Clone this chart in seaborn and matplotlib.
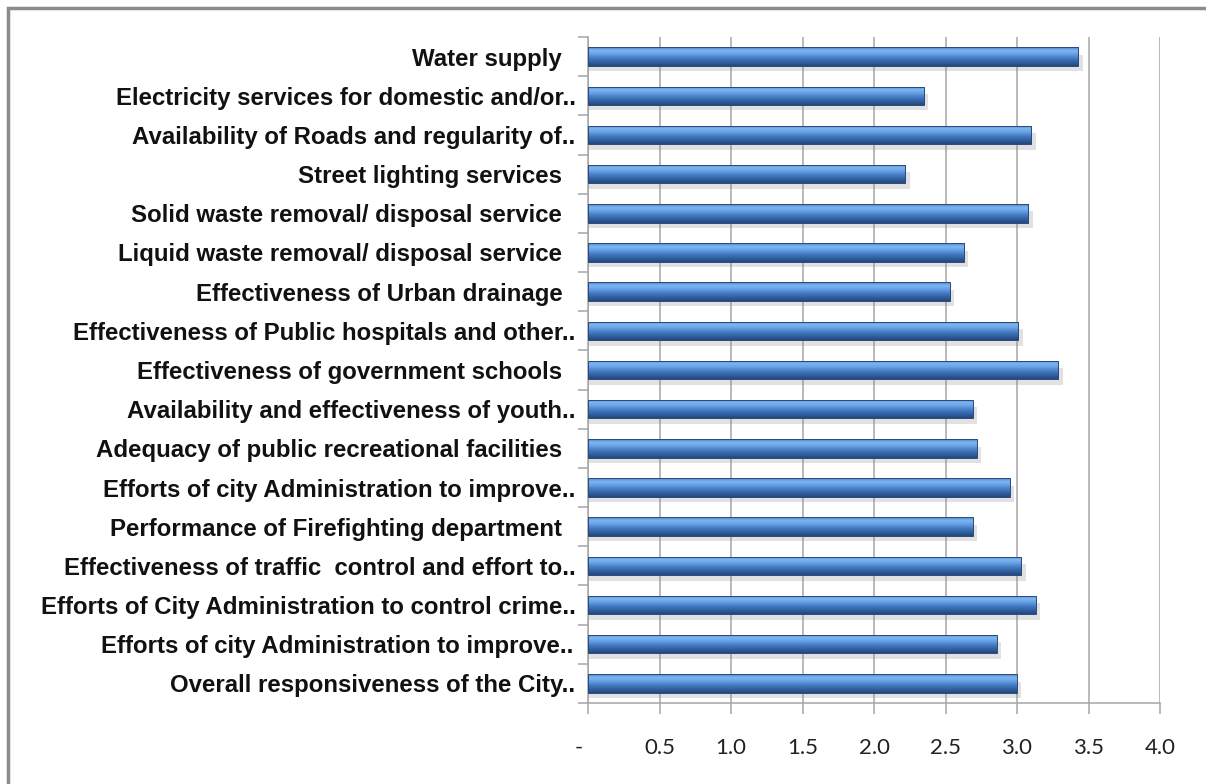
import numpy as np
import pandas as pd
import matplotlib
matplotlib.use("Agg")
import matplotlib.pyplot as plt
from matplotlib import font_manager
import seaborn as sns
from matplotlib.patches import Rectangle
from matplotlib.colors import LinearSegmentedColormap

categories = [
    "Water supply  ",
    "Electricity services for domestic and/or..",
    "Availability of Roads and regularity of..",
    "Street lighting services  ",
    "Solid waste removal/ disposal service  ",
    "Liquid waste removal/ disposal service  ",
    "Effectiveness of Urban drainage  ",
    "Effectiveness of Public hospitals and other..",
    "Effectiveness of government schools  ",
    "Availability and effectiveness of youth..",
    "Adequacy of public recreational facilities  ",
    "Efforts of city Administration to improve..",
    "Performance of Firefighting department  ",
    "Effectiveness of traffic  control and effort to..",
    "Efforts of City Administration to control crime..",
    "Efforts of city Administration to improve..\u200a",
    "Overall responsiveness of the City..",
]
values = [3.43, 2.35, 3.10, 2.22, 3.08, 2.63, 2.53, 3.01, 3.29, 2.69, 2.72,
          2.95, 2.69, 3.03, 3.13, 2.86, 3.00]
xticks = [0, 0.5, 1.0, 1.5, 2.0, 2.5, 3.0, 3.5, 4.0]
xticklabels = ["-   ", "0.5", "1.0", "1.5", "2.0", "2.5", "3.0", "3.5", "4.0"]

df = pd.DataFrame({"item": categories, "score": values})

sns.set_theme(style="white")
plt.rcParams["font.family"] = ["Liberation Sans", "DejaVu Sans"]

installed = {f.name for f in font_manager.fontManager.ttflist}
if "Liberation Sans Narrow" in installed:
    label_family = ["Liberation Sans Narrow", "DejaVu Sans"]
    label_size = 20.5
else:
    label_family = ["Liberation Sans", "DejaVu Sans"]
    label_size = 17.3

fig = plt.figure(figsize=(12.06, 7.84), dpi=100)
ax = fig.add_axes([588 / 1206, 1 - 703 / 784, (1160 - 588) / 1206, (703 - 37) / 784])

sns.barplot(data=df, x="score", y="item", orient="h", ax=ax, width=0.47,
            color="#4a86d0", zorder=3)

grad = LinearSegmentedColormap.from_list(
    "cyl",
    [(0.0, "#4f86cc"), (0.18, "#7db6f2"), (0.35, "#6aa3e6"),
     (0.6, "#4279c2"), (0.85, "#2e5a98"), (1.0, "#23477c")])
gimg = grad(np.linspace(0, 1, 64))[:, None, :]

for p in list(ax.patches):
    x0, y0, w, h = p.get_x(), p.get_y(), p.get_width(), p.get_height()
    sh = Rectangle((x0, y0 + h * 0.4), w + 0.03, h * 0.9, facecolor="#8a8a8a",
                   alpha=0.25, edgecolor="none", zorder=2)
    ax.add_patch(sh)
    p.set_facecolor("none")
    p.set_edgecolor("#2a4a78")
    p.set_linewidth(0.7)
    p.set_zorder(5)
    im = ax.imshow(gimg, extent=(x0, x0 + w, y0, y0 + h), origin="lower",
                   aspect="auto", zorder=4, interpolation="bilinear")
    im.set_clip_path(p)

n = len(categories)
ax.set_xlim(0, 4.0)
ax.set_ylim(n - 0.5, -0.5)

ax.set_xticks(xticks)
ax.set_xticklabels(xticklabels, fontsize=16, family=["Lato", "DejaVu Sans"],
                   color="#222222")
ax.xaxis.grid(True, color="#a6a6a6", linewidth=1.1, zorder=0)
ax.set_axisbelow(True)
ax.tick_params(axis="x", direction="out", length=8, width=1.1, color="#a6a6a6",
               pad=17, bottom=True)

ax.set_yticks(range(n))
ax.set_yticklabels(categories, fontsize=label_size, fontweight="bold",
                   color="#111111", family=label_family)
ax.tick_params(axis="y", length=0, pad=9)
ax.set_yticks(np.arange(-0.5, n, 1.0), minor=True)
ax.tick_params(axis="y", which="minor", direction="out", length=7, width=1.1,
               color="#a6a6a6", left=True)

ax.set_xlabel("")
ax.set_ylabel("")
for s in ["top", "right"]:
    ax.spines[s].set_visible(False)
for s in ["left", "bottom"]:
    ax.spines[s].set_color("#a6a6a6")
    ax.spines[s].set_linewidth(1.1)

border = Rectangle((8 / 1206, -0.2), 1.2, 1 - 8 / 784 + 0.2, transform=fig.transFigure,
                   fill=False, edgecolor="#8c8c8c", linewidth=2.5, clip_on=False)
fig.patches.append(border)

fig.savefig("out.png", dpi=100)
